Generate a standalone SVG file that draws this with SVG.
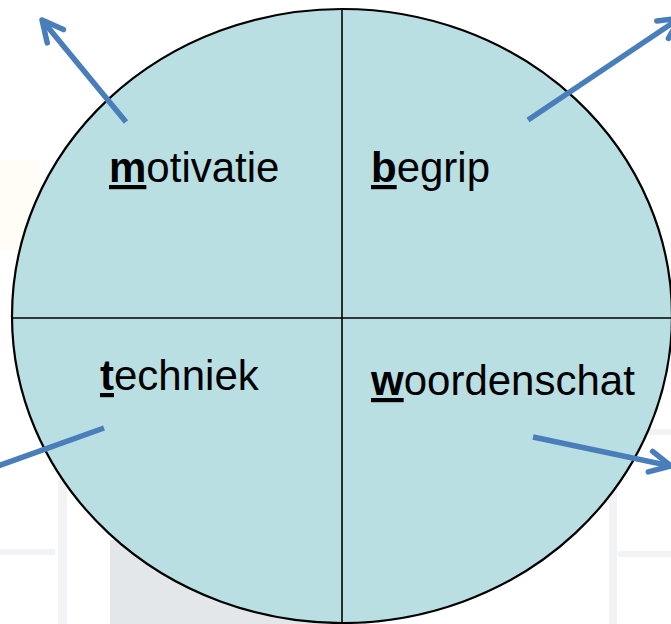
<svg xmlns="http://www.w3.org/2000/svg" width="671" height="624" viewBox="0 0 671 624">
  <style>
    .lbl { font-family: "Liberation Sans", Arial, sans-serif; font-size: 42px; fill: #000; }
    .init { font-weight: bold; text-decoration: underline; }
    .arrow { stroke: #4A7EBB; stroke-width: 5.5; fill: none; marker-end: url(#head); }
    .divider { stroke: #000; stroke-width: 1.6; }
    .bg { fill: #F2F3F4; }
  </style>
  <defs>
    <marker id="head" markerUnits="userSpaceOnUse" viewBox="-27 -17 34 34" markerWidth="34" markerHeight="34" refX="0" refY="0" orient="auto">
      <path d="M-21,-10.5 L0,0 L-21,10.5" fill="none" stroke="#4A7EBB" stroke-width="5.5" stroke-linecap="round" stroke-linejoin="round"/>
    </marker>
  </defs>
  <rect width="671" height="624" fill="#FFFFFF"/>
  <g id="background">
    <rect x="0" y="160" width="40" height="90" fill="#FFFDF6"/>
    <rect x="58" y="480" width="9" height="144" class="bg"/>
    <rect x="0" y="549" width="55" height="6" class="bg"/>
    <rect x="110" y="540" width="240" height="84" fill="#E4E7EA"/>
    <rect x="609" y="440" width="8" height="184" class="bg"/>
    <rect x="640" y="429" width="31" height="6" class="bg"/>
    <rect x="618" y="551" width="53" height="6" class="bg"/>
  </g>
  <g id="circle">
    <ellipse cx="342" cy="316" rx="330" ry="307" fill="#B9DFE3" stroke="#000" stroke-width="2.2"/>
    <line x1="342" y1="9" x2="342" y2="623" class="divider"/>
    <line x1="12" y1="318" x2="672" y2="318" class="divider"/>
  </g>
  <g id="motivatie">
    <text x="109" y="182" class="lbl"><tspan class="init">m</tspan>otivatie</text>
  </g>
  <g id="begrip">
    <text x="371" y="182" class="lbl"><tspan class="init">b</tspan>egrip</text>
  </g>
  <g id="techniek">
    <text x="100" y="390" class="lbl"><tspan class="init">t</tspan>echniek</text>
  </g>
  <g id="woordenschat">
    <text x="371" y="395" class="lbl"><tspan class="init">w</tspan>oordenschat</text>
  </g>
  <g id="connectors">
    <line x1="126" y1="122" x2="42" y2="20" class="arrow"/>
    <line x1="528" y1="120" x2="680" y2="18" class="arrow"/>
    <line x1="104" y1="428" x2="-30" y2="476" class="arrow"/>
    <line x1="533" y1="437" x2="671" y2="466" class="arrow"/>
  </g>
</svg>
